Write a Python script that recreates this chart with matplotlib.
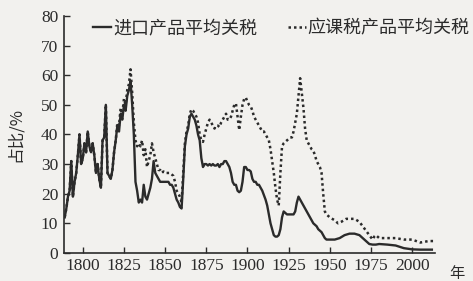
import matplotlib
matplotlib.use('Agg')
import matplotlib.pyplot as plt

plt.rcParams['font.family'] = ['Liberation Serif', 'Noto Sans CJK SC', 'DejaVu Sans']

# 进口产品平均关税 (solid)
years_all = [1789, 1790, 1791, 1792, 1793, 1794, 1795, 1796, 1797, 1798, 1799,
             1800, 1801, 1802, 1803, 1804, 1805, 1806, 1807, 1808, 1809, 1810,
             1811, 1812, 1813, 1814, 1815, 1816, 1817, 1818, 1819, 1820, 1821,
             1822, 1823, 1824, 1825, 1826, 1827, 1828, 1829, 1830, 1831, 1832,
             1833, 1834, 1835, 1836, 1837, 1838, 1839, 1840, 1841, 1842, 1843,
             1844, 1845, 1846, 1847, 1848, 1849, 1850, 1851, 1852, 1853, 1854,
             1855, 1856, 1857, 1858, 1859, 1860, 1861, 1862, 1863, 1864, 1865,
             1866, 1867, 1868, 1869, 1870, 1871, 1872, 1873, 1874, 1875, 1876,
             1877, 1878, 1879, 1880, 1881, 1882, 1883, 1884, 1885, 1886, 1887,
             1888, 1889, 1890, 1891, 1892, 1893, 1894, 1895, 1896, 1897, 1898,
             1899, 1900, 1901, 1902, 1903, 1904, 1905, 1906, 1907, 1908, 1909,
             1910, 1911, 1912, 1913, 1914, 1915, 1916, 1917, 1918, 1919, 1920,
             1921, 1922, 1923, 1924, 1925, 1926, 1927, 1928, 1929, 1930, 1931,
             1932, 1933, 1934, 1935, 1936, 1937, 1938, 1939, 1940, 1941, 1942,
             1943, 1944, 1945, 1946, 1947, 1948]
import_avg = [12, 15, 19, 21, 31, 19, 24, 27, 33, 40, 30,
              32, 37, 34, 41, 36, 34, 37, 33, 27, 30, 25,
              22, 38, 39, 50, 27, 26, 25, 28, 34, 38, 43,
              41, 47, 45, 50, 48, 53, 55, 58, 50, 40, 24,
              21, 17, 18, 17, 23, 19, 18, 20, 22, 25, 31,
              27, 26, 25, 24, 24, 24, 24, 24, 24, 23, 23,
              22, 20, 18, 17, 15.5, 15, 25, 36, 40, 42, 46,
              47, 46, 45, 43, 40, 38, 32, 29, 30, 30, 29.5,
              30, 29.5, 30, 29.5, 29.5, 30, 29, 30, 30, 31, 31,
              30, 29, 27, 24, 23, 23, 21, 20.5, 21, 24, 29,
              29, 28, 28, 27.5, 25, 24, 24, 23, 23, 22, 21,
              19.5, 18, 16, 13, 10, 8, 6, 5.5, 5.5, 6, 8,
              12, 14, 13.5, 13, 13, 13, 13, 13, 14, 17, 19,
              18, 17, 16, 15, 14, 13, 12, 11, 10, 9.5, 9,
              8, 7.5, 7, 6, 5, 4.5]
years_late = [1950, 1953, 1956, 1959, 1962, 1965, 1968, 1970, 1972, 1974, 1976,
              1978, 1980, 1985, 1990, 1995, 2000, 2005, 2012]
import_late = [4.5, 4.5, 5, 6, 6.5, 6.5, 6, 5, 4, 3, 2.8,
               2.8, 3, 2.8, 2.5, 1.6, 1.2, 1.1, 1.1]

# 应课税产品平均关税 (dotted)
dutiable_all = [12, 15, 19, 21, 31, 19, 24, 27, 33, 40, 30,
                32, 37, 34, 41, 36, 34, 37, 33, 27, 30, 25,
                22, 38, 39, 50, 27, 26, 25, 28, 34, 38, 44,
                43, 49, 47, 52, 50, 55, 57, 62, 54, 44, 38,
                36, 37, 36, 38, 33, 35, 29, 31, 33, 37, 34,
                32, 30, 28, 28, 27, 27.5, 27, 27, 27, 27, 26.5,
                26, 24, 21, 20, 19, 17, 27, 37, 41, 43, 47,
                48.5, 48, 47, 46, 44, 40, 38, 37.5, 40, 42, 44,
                45, 44, 43, 42, 43, 43, 42.5, 44, 45, 46, 47,
                45, 45, 46, 48, 50, 50.5, 46, 41.5, 46, 50, 52,
                52.5, 51, 50, 49.5, 48, 46, 45, 44, 43, 42, 41,
                41, 40, 39, 38, 35, 31, 27, 22, 18, 16, 27,
                36, 37, 37.5, 38, 38.5, 39, 39, 41, 44, 47, 53,
                59, 54, 49, 42, 38, 37, 36, 35, 34.5, 33, 31,
                30, 29, 27, 20, 14, 13]
years_late_d = [1950, 1953, 1955, 1957, 1960, 1962, 1965, 1968, 1970, 1972, 1974,
                1976, 1977, 1978, 1980, 1985, 1990, 1995, 2000, 2005, 2010, 2013]
dutiable_late = [12, 11, 10, 10.5, 11.5, 11.5, 11.5, 10.5, 9, 7.5, 6,
                 4.5, 5.5, 6, 5, 5, 5, 4.5, 4.5, 3.5, 4, 4]

x_ticks = [1800, 1825, 1850, 1875, 1900, 1925, 1950, 1975, 2000]
y_ticks = [0, 10, 20, 30, 40, 50, 60, 70, 80]

bg = '#f2f1ee'
ink = '#2b2b2b'

fig = plt.figure(figsize=(4.73, 2.81), dpi=100, facecolor=bg)
ax = fig.add_axes([0.135, 0.10, 0.785, 0.843], facecolor=bg)

ax.plot(years_all + years_late, import_avg + import_late, color=ink, lw=1.7,
        label='进口产品平均关税')
ax.plot(years_all + years_late_d, dutiable_all + dutiable_late, color=ink, lw=1.8,
        ls=(0, (1, 1.2)), label='应课税产品平均关税')

ax.set_xlim(1788.5, 2014)
ax.set_ylim(0, 80)
ax.set_xticks(x_ticks)
ax.set_yticks(y_ticks)
ax.tick_params(direction='in', length=4, width=1, colors=ink, labelsize=12.5, pad=4)
for s in ['top', 'right']:
    ax.spines[s].set_visible(False)
for s in ['left', 'bottom']:
    ax.spines[s].set_color(ink)
    ax.spines[s].set_linewidth(1.2)

ax.set_ylabel('占比/%', fontsize=12, color=ink, family=['Noto Sans CJK SC'], labelpad=12)
fig.text(0.965, 0.012, '年', fontsize=11, color=ink, family=['Noto Sans CJK SC'],
         ha='center', va='baseline')

leg = ax.legend(ncol=2, frameon=False, loc='upper left', bbox_to_anchor=(0.035, 1.055),
                handlelength=1.0, handletextpad=0.1, columnspacing=1.7,
                prop={'family': 'Noto Sans CJK SC', 'size': 13})
for t in leg.get_texts():
    t.set_color(ink)

fig.savefig('out.png', dpi=100, facecolor=bg)
